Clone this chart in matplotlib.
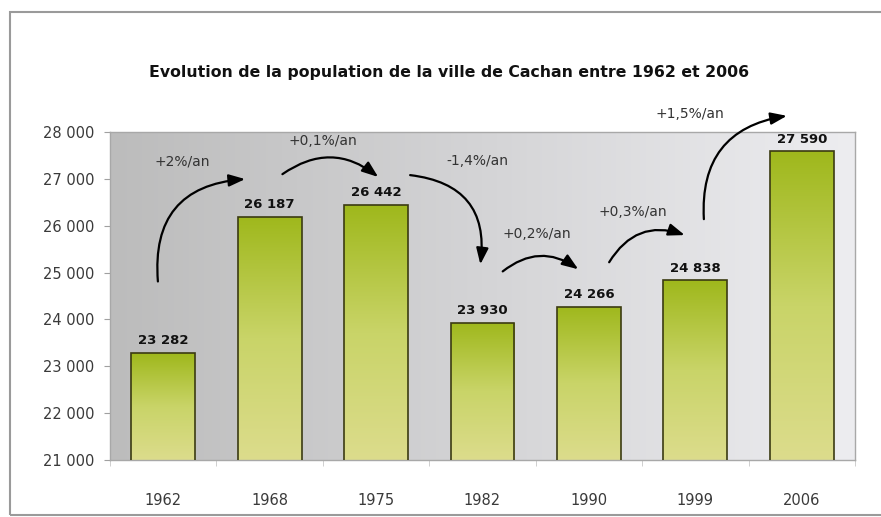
import numpy as np
import matplotlib
matplotlib.use("Agg")
from matplotlib import pyplot as plt
from matplotlib.colors import LinearSegmentedColormap
from matplotlib.patches import Rectangle

# population de Cachan par recensement
annees = ["1962", "1968", "1975", "1982", "1990", "1999", "2006"]
population = [23282, 26187, 26442, 23930, 24266, 24838, 27590]
taux = ["+2%/an", "+0,1%/an", "-1,4%/an", "+0,2%/an", "+0,3%/an", "+1,5%/an"]
yticks = [21000, 22000, 23000, 24000, 25000, 26000, 27000, 28000]

# fleches entre recensements : (depart, arrivee, courbure, position du texte)
fleches = [
    ((-0.05, 24810), (0.77, 26995), -0.5, (0.18, 27360)),
    ((1.12, 27100), (2.02, 27040), -0.37, (1.50, 27810)),
    ((2.32, 27080), (2.98, 25175), -0.5, (2.95, 27380)),
    ((3.19, 25025), (3.90, 25070), -0.37, (3.51, 25820)),
    ((4.19, 25220), (4.90, 25800), -0.4, (4.41, 26290)),
    ((5.08, 26140), (5.86, 28345), -0.45, (4.95, 28390)),
]

def fmt(v):
    return "{:,}".format(v).replace(",", " ")

fig = plt.figure(figsize=(8.81, 5.17), dpi=100)
ax = fig.add_axes([110/881, 1-460/517, 745/881, 328/517])
ax.set_xlim(-0.5, len(annees) - 0.5)
ax.set_ylim(21000, 28000)

# fond degrade gris, sombre a gauche
fond = LinearSegmentedColormap.from_list("fond", ["#bcbcbc", "#d4d4d6", "#ededf0"])
ax.imshow(np.linspace(0, 1, 256).reshape(1, -1), cmap=fond, aspect="auto",
          extent=(-0.5, len(annees) - 0.5, 21000, 28000), zorder=0)

# barres avec degrade vert vertical
vert = LinearSegmentedColormap.from_list("vert", ["#dcdc8c", "#c9d468", "#9fb81c"])
x = np.arange(len(annees))
bars = ax.bar(x, population, width=0.6, facecolor="none", edgecolor="#3b3b12",
              linewidth=1.2, zorder=3)
for b in bars:
    x0, w, h = b.get_x(), b.get_width(), b.get_height()
    im = ax.imshow(np.linspace(0, 1, 256).reshape(-1, 1), cmap=vert, aspect="auto",
                   origin="lower", extent=(x0, x0 + w, 21000, h), zorder=2)
    im.set_clip_path(b)

for xi, v in zip(x, population):
    ax.text(xi, v + 120, fmt(v), ha="center", va="bottom", fontsize=9.5,
            fontweight="bold", color="#111111", zorder=4)

for (debut, fin, rad, pos), t in zip(fleches, taux):
    ax.annotate("", xy=fin, xytext=debut, annotation_clip=False,
                arrowprops=dict(arrowstyle="-|>,head_length=0.75,head_width=0.28",
                                connectionstyle="arc3,rad=%s" % rad,
                                color="black", lw=1.6, shrinkA=0, shrinkB=0,
                                mutation_scale=13), zorder=5)
    ax.text(pos[0], pos[1], t, ha="center", va="center", fontsize=10,
            color="#333333", zorder=5, clip_on=False)

ax.set_yticks(yticks)
ax.set_yticklabels([fmt(v) for v in yticks])
ax.set_xticks(x)
ax.set_xticklabels(annees)
ax.set_xticks(np.arange(-0.5, len(annees)), minor=True)
ax.tick_params(axis="y", length=4, color="#a0a0a0", pad=7, labelsize=10.5,
               labelcolor="#3a3a3a")
ax.tick_params(axis="x", which="major", length=0, pad=24, labelsize=10.5,
               labelcolor="#3a3a3a")
ax.tick_params(axis="x", which="minor", length=4, color="#c8c8c8")
for s in ax.spines.values():
    s.set_color("#a8a8a8")
    s.set_linewidth(1)

fig.text(449/881, 1-72/517, "Evolution de la population de la ville de Cachan entre 1962 et 2006",
         ha="center", va="center", fontsize=11.3, fontweight="bold", color="#111111")

# cadre du graphique
fig.patches.append(Rectangle((10/881, 2/517), 1, 503/517, transform=fig.transFigure,
                             fill=False, edgecolor="#9a9a9a", linewidth=1.5))

fig.savefig("out.png", dpi=100)
